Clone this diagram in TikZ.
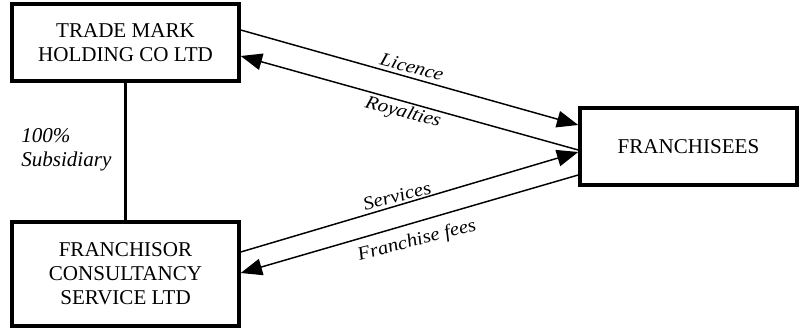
\documentclass[tikz,border=0pt]{standalone}
\usepackage{fontspec}
\setmainfont{Liberation Serif}
\usetikzlibrary{arrows.meta,calc}
\begin{document}
\begin{tikzpicture}[x=0.75pt,y=-0.75pt,
  box/.style={draw,line width=2.6pt,align=center,inner sep=0pt,
    font=\fontsize{15.8}{18}\selectfont},
  conn/.style={line width=1.1pt},
  arr/.style={conn,-{Triangle[length=16pt,width=12.5pt]}},
  lbl/.style={font=\fontsize{14}{16}\selectfont\itshape,inner sep=0pt,xscale=1.12},
  side/.style={font=\fontsize{15.8}{18}\selectfont\itshape,align=left,inner sep=0pt}]
\useasboundingbox (0,0) rectangle (800,328);
\node[box,minimum width=170.25pt,minimum height=57.75pt] (TM) at (125.5,42.5) {TRADE MARK\\HOLDING CO LTD};
\node[box,minimum width=170.25pt,minimum height=78pt] (FC) at (125.5,274) {FRANCHISOR\\CONSULTANCY\\SERVICE LTD};
\node[box,minimum width=162.75pt,minimum height=57.75pt] (FR) at (688.5,146.5) {FRANCHISEES};
\draw[line width=2.2pt] (TM.south) -- (FC.north);
\node[side,anchor=west] (sub) at (21,150) {100\%\\Subsidiary};
\draw[arr] ($(TM.east)+(0,-12.5)$) -- ($(FR.west)+(0,-21.5)$);
\draw[arr] ($(FR.west)+(0,3.5)$) -- ($(TM.east)+(0,13.5)$);
\draw[arr] ($(FC.east)+(0,-22)$) -- ($(FR.west)+(0,5.5)$);
\draw[arr] ($(FR.west)+(0,28.5)$) -- ($(FC.east)+(0,-1)$);
\node[lbl,rotate=-16] (lic) at (412,67) {Licence};
\node[lbl,rotate=-16] (roy) at (403,113) {Royalties};
\node[lbl,rotate=16] (ser) at (397,196) {Services};
\node[lbl,rotate=16] (ff) at (417,241) {Franchise fees};
\end{tikzpicture}
\end{document}
